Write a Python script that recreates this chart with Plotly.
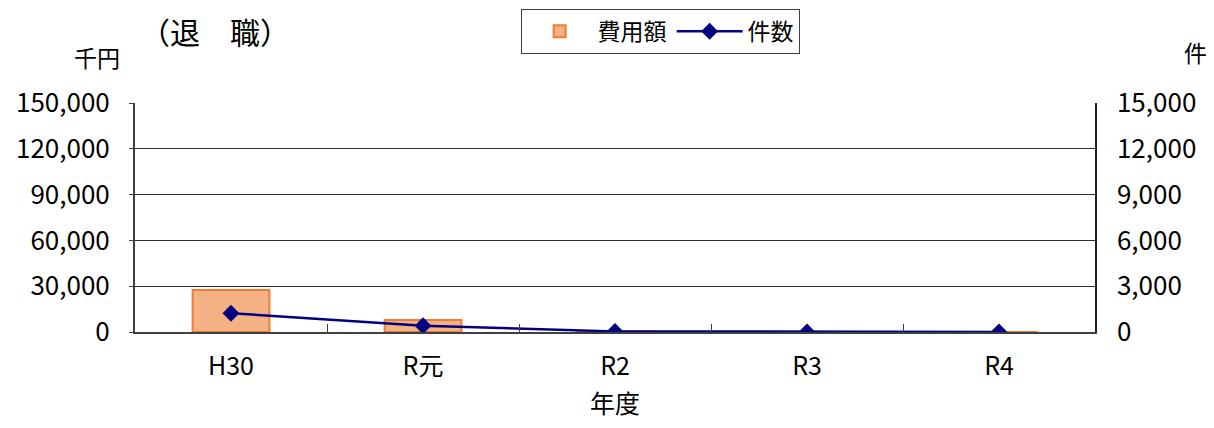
import plotly.graph_objects as go

categories = ["H30", "R元", "R2", "R3", "R4"]
cost_values = [27500, 7800, 400, 0, 0]          # 費用額 (千円)
count_values = [1230, 410, 40, 5, 3]            # 件数 (件)
left_ticks = [0, 30000, 60000, 90000, 120000, 150000]
right_ticks = [0, 3000, 6000, 9000, 12000, 15000]

FONT = "Noto Sans CJK JP"

fig = go.Figure()
fig.add_trace(go.Bar(
    x=categories, y=cost_values, name="費用額",
    marker=dict(color="#F4B183", line=dict(color="#ED7D31", width=2)),
    width=0.4, yaxis="y",
))
fig.add_trace(go.Scatter(
    x=categories, y=count_values, name="件数", mode="lines+markers",
    line=dict(color="#000080", width=2.5),
    marker=dict(symbol="diamond", size=13, color="#000080"),
    yaxis="y2",
))

fig.update_layout(
    width=1198, height=412,
    margin=dict(l=127, r=111, t=95, b=88),
    paper_bgcolor="white", plot_bgcolor="white",
    font=dict(family=FONT, size=24, color="black"),
    showlegend=True,
    legend=dict(
        orientation="h", x=0.547, xanchor="center",
        yref="container", y=0.998, yanchor="top",
        bordercolor="#404040", borderwidth=1, font=dict(size=23),
        tracegroupgap=0, itemwidth=66,
    ),
    xaxis=dict(
        type="category", showgrid=False, automargin=False,
        showline=True, linecolor="#404040", linewidth=2,
        ticks="inside", ticklen=8, tickcolor="#404040", tickson="boundaries",
        tickfont=dict(size=25), ticklabelstandoff=11,
        title=dict(text="年度", font=dict(size=25), standoff=21),
        range=[-0.5, 4.5],
    ),
    yaxis=dict(
        range=[0, 150000], tickvals=left_ticks, tickformat=",d",
        showgrid=True, gridcolor="#303030", gridwidth=1,
        showline=True, linecolor="#404040", linewidth=2,
        ticks="outside", ticklen=4, tickcolor="#404040",
        zeroline=False, ticklabelstandoff=14, automargin=False,
        tickfont=dict(size=26),
    ),
    yaxis2=dict(
        range=[0, 15000], tickvals=right_ticks, tickformat=",d",
        overlaying="y", side="right", showgrid=False,
        showline=True, linecolor="#202020", linewidth=1.5,
        ticks="", zeroline=False, ticklabelstandoff=15, automargin=False,
        tickfont=dict(size=26),
    ),
    bargap=0.6,
)

fig.add_annotation(text="（退　職）", xref="paper", yref="paper",
                   x=0.003, xanchor="left", y=1.315, yanchor="middle",
                   showarrow=False, font=dict(size=30))
fig.add_annotation(text="千円", xref="paper", yref="paper",
                   x=-0.0135, xanchor="right", y=1.201, yanchor="middle",
                   showarrow=False, font=dict(size=23))
fig.add_annotation(text="件", xref="paper", yref="paper",
                   x=1.1188, xanchor="right", y=1.223, yanchor="middle",
                   showarrow=False, font=dict(size=23))

fig.write_html("out.html")
